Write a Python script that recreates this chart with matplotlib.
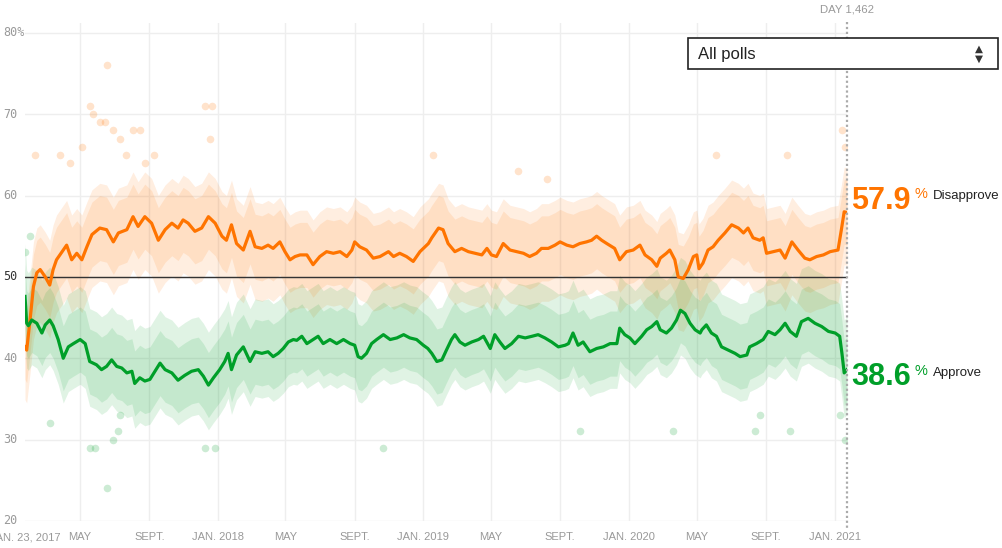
import matplotlib

matplotlib.use("Agg")
import matplotlib.pyplot as plt  # noqa: E402
from matplotlib.patches import Rectangle  # noqa: E402
from matplotlib.transforms import blended_transform_factory  # noqa: E402
import numpy as np  # noqa: E402
import pandas as pd  # noqa: E402

START = pd.Timestamp("2017-01-23")
LAST_DAY = 1461

# trend lines (days since Jan. 23, 2017)
disapprove_days = [0, 3, 9, 15, 21, 27, 36, 44, 50, 56, 68, 74, 83, 92, 101, 110, 119, 133,
                   145, 157, 166, 181, 192, 201, 213, 225, 237, 249, 261, 272, 281, 290, 302,
                   314, 326, 338, 350, 358, 367, 376, 388, 400, 409, 421, 432, 441, 453, 462,
                   471, 480, 489, 501, 512, 524, 536, 548, 560, 572, 581, 586, 595, 607, 619,
                   631, 646, 655, 666, 678, 690, 702, 717, 723, 735, 743, 752, 764, 776, 788,
                   800, 812, 821, 829, 838, 850, 862, 874, 886, 897, 909, 918, 930, 942, 951,
                   963, 974, 986, 998, 1007, 1016, 1025, 1034, 1048, 1057, 1069, 1081, 1093,
                   1102, 1114, 1123, 1129, 1140, 1146, 1155, 1161, 1170, 1179, 1188, 1194,
                   1198, 1205, 1214, 1223, 1232, 1244, 1256, 1268, 1277, 1285, 1294, 1306,
                   1312, 1318, 1330, 1342, 1351, 1363, 1374, 1386, 1395, 1407, 1419, 1431,
                   1445, 1451, 1456, 1461]
disapprove_vals = [41.4, 41.0, 44.7, 48.8, 50.5, 50.9, 50.0, 49.0, 50.9, 52.1, 53.3, 53.9,
                   52.1, 52.9, 52.1, 53.7, 55.2, 56.0, 55.8, 54.3, 55.4, 55.8, 57.4, 56.2,
                   57.4, 56.6, 54.5, 55.8, 56.6, 56.0, 57.0, 56.6, 55.6, 56.0, 57.4, 56.6,
                   55.0, 54.5, 56.4, 54.1, 53.3, 55.6, 53.7, 53.5, 53.9, 53.5, 54.3, 53.1,
                   52.1, 52.5, 52.7, 52.7, 51.5, 52.5, 53.1, 52.9, 53.1, 52.5, 53.3, 54.3,
                   53.7, 53.3, 52.3, 52.5, 53.1, 52.5, 52.9, 52.5, 51.9, 53.1, 54.1, 54.8,
                   56.0, 55.8, 54.1, 53.1, 53.5, 53.1, 52.9, 52.7, 53.5, 52.7, 52.5, 54.1,
                   53.3, 53.1, 52.9, 52.5, 52.9, 53.5, 53.5, 53.9, 54.3, 53.9, 53.7, 54.1,
                   54.3, 54.5, 55.0, 54.5, 54.1, 53.5, 52.1, 53.1, 53.3, 53.9, 52.7, 52.1,
                   51.3, 52.3, 52.9, 53.3, 52.1, 50.0, 49.8, 50.9, 52.5, 52.7, 51.0, 51.7,
                   53.3, 53.7, 54.5, 55.4, 56.4, 56.0, 55.4, 56.0, 54.8, 54.5, 54.8, 52.9,
                   53.1, 53.3, 52.3, 54.3, 53.3, 52.3, 52.1, 52.5, 52.7, 53.1, 53.3, 55.8,
                   58.0, 57.9]

approve_days = [0, 3, 6, 12, 21, 30, 36, 44, 50, 59, 68, 77, 86, 98, 107, 115, 127, 136,
                145, 154, 163, 172, 181, 190, 195, 204, 213, 222, 231, 240, 249, 261, 272,
                284, 296, 308, 317, 326, 335, 346, 355, 361, 367, 376, 388, 400, 409, 421,
                432, 441, 450, 459, 468, 477, 483, 492, 501, 512, 521, 530, 542, 554, 566,
                578, 586, 592, 598, 607, 616, 625, 637, 649, 661, 673, 684, 696, 708, 716,
                723, 732, 741, 749, 758, 764, 773, 782, 794, 806, 815, 827, 835, 844, 853,
                865, 877, 889, 901, 912, 924, 936, 948, 960, 966, 974, 983, 992, 1004, 1016,
                1028, 1040, 1052, 1057, 1066, 1075, 1084, 1096, 1105, 1114, 1123, 1129,
                1140, 1149, 1158, 1165, 1173, 1182, 1191, 1200, 1203, 1211, 1220, 1229,
                1238, 1250, 1262, 1271, 1283, 1288, 1300, 1312, 1321, 1333, 1342, 1351,
                1360, 1371, 1380, 1392, 1404, 1416, 1428, 1440, 1448, 1452, 1456, 1461]
approve_vals = [47.6, 44.3, 44.0, 44.7, 44.3, 43.1, 44.1, 44.7, 44.0, 42.3, 40.0, 41.4,
                41.8, 42.3, 41.8, 39.6, 39.2, 38.6, 39.0, 39.8, 39.0, 38.8, 38.2, 38.4,
                36.9, 37.6, 37.2, 37.4, 38.4, 39.4, 38.6, 38.2, 37.3, 37.9, 38.4, 38.6,
                37.8, 36.7, 37.6, 38.6, 39.6, 40.6, 38.6, 40.4, 41.4, 39.6, 40.8, 40.6,
                40.8, 40.2, 40.6, 41.2, 42.0, 42.3, 42.2, 42.7, 41.8, 42.3, 42.7, 41.8,
                42.3, 41.8, 42.3, 41.8, 41.6, 40.2, 40.0, 40.6, 41.8, 42.3, 42.9, 42.3,
                42.5, 42.9, 42.5, 42.3, 41.6, 41.2, 40.6, 39.6, 39.8, 41.0, 42.3, 42.9,
                42.0, 41.6, 42.0, 42.3, 42.7, 41.2, 42.9, 42.0, 41.2, 41.8, 42.7, 42.5,
                42.7, 42.9, 42.5, 42.0, 41.4, 41.6, 41.8, 43.1, 41.6, 42.0, 40.8, 41.2,
                41.4, 41.8, 41.8, 43.7, 42.9, 42.5, 41.8, 42.7, 43.5, 43.9, 44.5, 43.5,
                43.1, 43.7, 44.7, 45.9, 45.5, 44.3, 43.5, 43.1, 43.5, 44.1, 43.1, 42.7,
                41.4, 41.0, 40.6, 40.2, 40.4, 41.4, 41.8, 42.3, 43.3, 42.9, 43.5, 44.3,
                43.3, 42.7, 44.5, 44.9, 44.3, 43.9, 43.3, 43.1, 42.7, 40.6, 38.2, 38.6]

# individual polls far from the trend
disapprove_poll_days = [18, 62, 80, 101, 115, 121, 133, 142, 146, 156, 169, 180, 192, 204,
                        213, 230, 320, 329, 332, 725, 876, 928, 1228, 1354, 1452, 1457]
disapprove_poll_vals = [65, 65, 64, 66, 71, 70, 69, 69, 76, 68, 67, 65, 68, 68, 64, 65, 71,
                        67, 71, 65, 63, 62, 65, 65, 68, 66]
approve_poll_days = [0, 9, 44, 115, 124, 146, 156, 165, 169, 320, 338, 636, 986, 1152,
                     1297, 1306, 1360, 1448, 1457]
approve_poll_vals = [53, 55, 32, 29, 29, 24, 30, 31, 33, 29, 29, 29, 31, 31, 31, 33, 31,
                     33, 30]

# uncertainty band and spread of the poll cloud around each trend
band_half = 4.0
cloud_below_disapprove, cloud_above_disapprove = 6.5, 5.5
cloud_below_approve, cloud_above_approve = 5.5, 6.5

y_ticks = [20, 30, 40, 50, 60, 70, 80]
month_ticks = ["2017-05-01", "2017-09-01", "2018-01-01", "2018-05-01", "2018-09-01",
               "2019-01-01", "2019-05-01", "2019-09-01", "2020-01-01", "2020-05-01",
               "2020-09-01", "2021-01-01"]
month_labels = ["MAY", "SEPT.", "JAN. 2018", "MAY", "SEPT.", "JAN. 2019", "MAY", "SEPT.",
                "JAN. 2020", "MAY", "SEPT.", "JAN. 2021"]

ORANGE = "#ff7400"
GREEN = "#009f29"
GRID = "#eeeeee"
MUTED = "#999999"

W, H = 1003, 548
fig = plt.figure(figsize=(W / 100, H / 100), dpi=100)
ax = fig.add_axes([25 / W, 1 - 521 / H, (847 - 25) / W, (521 - 23) / H])
ax.set_xlim(0, LAST_DAY)
ax.set_ylim(20, 81.2)
for side in ax.spines.values():
    side.set_visible(False)
ax.set_xticks([])
ax.set_yticks([])


def px(x, y):
    return x / W, 1 - y / H


tick_days = [(pd.Timestamp(d) - START).days for d in month_ticks]
for d in tick_days:
    ax.axvline(d, color=GRID, lw=1, zorder=0)
for v in y_ticks:
    ax.axhline(v, color=GRID, lw=1, zorder=0)

d_days = np.array(disapprove_days)
d_vals = np.array(disapprove_vals)
a_days = np.array(approve_days)
a_vals = np.array(approve_vals)

ax.fill_between(d_days, d_vals - cloud_below_disapprove, d_vals + cloud_above_disapprove,
                color=ORANGE, alpha=0.12, lw=0, zorder=1)
ax.fill_between(a_days, a_vals - cloud_below_approve, a_vals + cloud_above_approve,
                color=GREEN, alpha=0.12, lw=0, zorder=1)
ax.fill_between(d_days, d_vals - band_half, d_vals + band_half,
                color=ORANGE, alpha=0.12, lw=0, zorder=2)
ax.fill_between(a_days, a_vals - band_half, a_vals + band_half,
                color=GREEN, alpha=0.12, lw=0, zorder=2)

ax.scatter(disapprove_poll_days, disapprove_poll_vals, s=30, color=ORANGE, alpha=0.2,
           lw=0, zorder=3)
ax.scatter(approve_poll_days, approve_poll_vals, s=30, color=GREEN, alpha=0.2,
           lw=0, zorder=3)

ax.axhline(50, color="#333333", lw=1, zorder=4)
ax.plot(d_days, d_vals, color=ORANGE, lw=2.3, zorder=5, solid_joinstyle="round")
ax.plot(a_days, a_vals, color=GREEN, lw=2.3, zorder=5, solid_joinstyle="round")

# y labels, left aligned at the figure edge
ytrans = blended_transform_factory(fig.transFigure, ax.transData)
for v in y_ticks:
    label = f"{v}%" if v == 80 else str(v)
    ax.text(3 / W, v, label, transform=ytrans, ha="left", va="center",
            family="DejaVu Sans Mono", fontsize=8.5,
            color="#333333" if v == 50 else MUTED)

# x labels (the first one runs off the left edge, as in the original)
xtrans = blended_transform_factory(ax.transData, fig.transFigure)
for d, lab in zip([0] + tick_days, ["JAN. 23, 2017"] + month_labels):
    ax.text(d, 1 - 537 / H, lab, transform=xtrans, ha="center", va="center",
            family="Liberation Sans", fontsize=8, color=MUTED, clip_on=False)

# today marker
fig.add_artist(plt.Line2D([847 / W, 847 / W], [1 - 22 / H, 1 - 530 / H],
                          color="#aaaaaa", lw=1.6, linestyle=(0, (1, 1.2))))
fig.text(*px(847, 9), "DAY 1,462", ha="center", va="center",
         family="Liberation Sans", fontsize=8.2, color=MUTED)

# dropdown
x0, y0 = px(688, 69)
fig.add_artist(Rectangle((x0, y0), (998 - 688) / W, 31 / H, transform=fig.transFigure,
                         facecolor="white", edgecolor="#222222", lw=1.2, zorder=10))
fig.text(*px(698, 54), "All polls", ha="left", va="center", family="Liberation Sans",
         fontsize=12, color="#222222", zorder=11)
fig.text(*px(979, 49), "\u25b2", ha="center", va="center", fontsize=7.5,
         color="#333333", zorder=11)
fig.text(*px(979, 59), "\u25bc", ha="center", va="center", fontsize=7.5,
         color="#333333", zorder=11)

# current values
fig.text(*px(851, 201), f"{disapprove_vals[-1]:.1f}", ha="left", va="center",
         family="Liberation Sans", fontweight="bold", fontsize=22, color=ORANGE)
fig.text(*px(915, 194), "%", ha="left", va="center", family="Liberation Sans",
         fontsize=10.5, color=ORANGE)
fig.text(*px(933, 196), "Disapprove", ha="left", va="center", family="Liberation Sans",
         fontsize=9.5, color="#222222")
fig.text(*px(851, 377), f"{approve_vals[-1]:.1f}", ha="left", va="center",
         family="Liberation Sans", fontweight="bold", fontsize=22, color=GREEN)
fig.text(*px(915, 371), "%", ha="left", va="center", family="Liberation Sans",
         fontsize=10.5, color=GREEN)
fig.text(*px(933, 373), "Approve", ha="left", va="center", family="Liberation Sans",
         fontsize=9.5, color="#222222")

fig.savefig("out.png", dpi=100, facecolor="white")
